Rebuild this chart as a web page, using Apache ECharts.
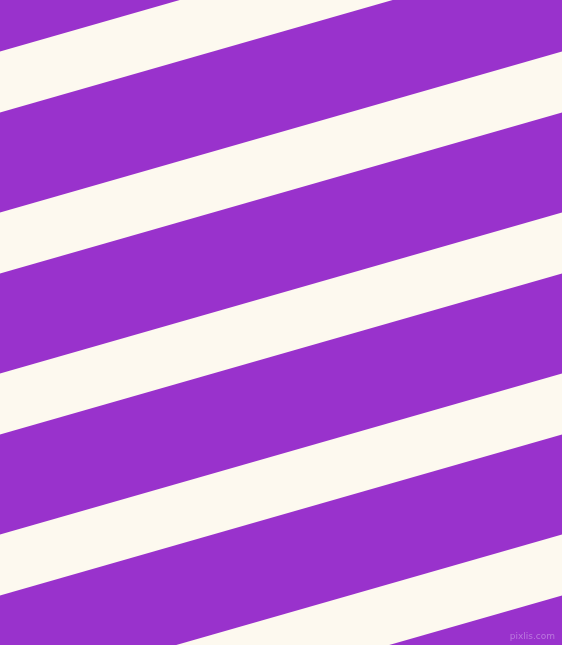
<!DOCTYPE html>
<html>
<head>
<meta charset="utf-8">
<script src="https://cdn.jsdelivr.net/npm/echarts@6/dist/echarts.min.js"></script>
<style>
  html, body { margin: 0; padding: 0; background: #9932cc; }
  #main { width: 562px; height: 645px; }
</style>
</head>
<body>
<div id="main"></div>
<script>
    // top edge of each cream stripe where it meets x = 0 (pixels down from top)
    var stripeTops = [-109.5, 51.5, 212.5, 373.5, 534.5, 695.5];
    var stripeWidth = 61;      // vertical thickness of a cream stripe
    var stripeSlope = 0.2865;  // rise per pixel going right (about 16 deg)
    var canvasW = 562;
    var canvasH = 645;

    var dom = document.getElementById("main");
    var myChart = echarts.init(dom);

    function renderStripe(params, api) {
        var y0 = api.value(0);
        var y1 = y0 + stripeWidth;
        var dy = stripeSlope * canvasW;
        var pts = [
            api.coord([0, y0]),
            api.coord([canvasW, y0 - dy]),
            api.coord([canvasW, y1 - dy]),
            api.coord([0, y1])
        ];
        return {
            type: 'polygon',
            shape: { points: pts },
            style: { fill: '#fdf9ef' }
        };
    }

    var option = {
        backgroundColor: '#9932cc',
        animation: false,
        grid: { left: 0, right: 0, top: 0, bottom: 0 },
        xAxis: {
            type: 'value', min: 0, max: canvasW, show: false
        },
        yAxis: {
            type: 'value', min: 0, max: canvasH, inverse: true, show: false
        },
        graphic: [{
            type: 'text',
            right: 7,
            bottom: 4,
            z: 10,
            style: {
                text: 'pixlis.com',
                fill: '#bb78de',
                font: '9px "DejaVu Sans"'
            }
        }],
        series: [{
            type: 'custom',
            renderItem: renderStripe,
            clip: true,
            data: stripeTops.map(function(v) { return [v]; })
        }]
    };

    myChart.setOption(option, true);
</script>
</body>
</html>
